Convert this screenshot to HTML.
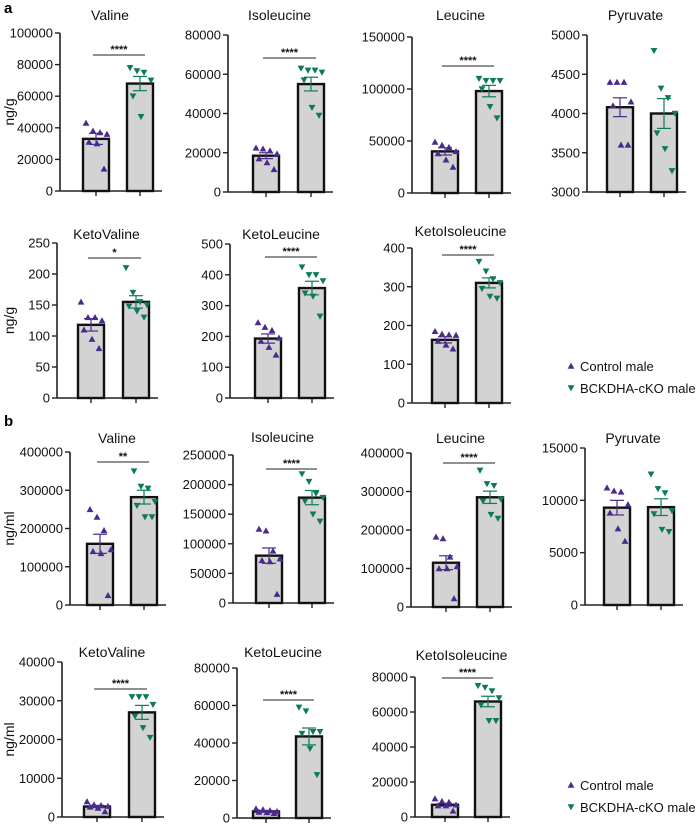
<!DOCTYPE html>
<html><head><meta charset="utf-8">
<style>
html,body{margin:0;padding:0;background:#fff;}
svg{display:block;font-family:"Liberation Sans",Arial,sans-serif;}
</style></head>
<body>
<svg id="fig" width="697" height="826" viewBox="0 0 697 826" xmlns="http://www.w3.org/2000/svg">
<text x="4" y="13" font-size="15" font-weight="bold">a</text>
<text x="4" y="426" font-size="15" font-weight="bold">b</text>
</svg>
<script>
// ---- data ----
const panelTitles = ["Valine","Isoleucine","Leucine","Pyruvate","KetoValine","KetoLeucine","KetoIsoleucine",
                     "Valine","Isoleucine","Leucine","Pyruvate","KetoValine","KetoLeucine","KetoIsoleucine"];
const yTicks = [
 [0,20000,40000,60000,80000,100000],[0,20000,40000,60000,80000],[0,50000,100000,150000],[3000,3500,4000,4500,5000],
 [0,50,100,150,200,250],[0,100,200,300,400,500],[0,100,200,300,400],
 [0,100000,200000,300000,400000],[0,50000,100000,150000,200000,250000],[0,100000,200000,300000,400000],[0,5000,10000,15000],
 [0,10000,20000,30000,40000],[0,20000,40000,60000,80000],[0,20000,40000,60000,80000]];
const controlMeans = [33000,18500,40000,4080,118,193,163,160000,80000,115000,9300,2700,3500,7000];
const koMeans = [68000,55000,98000,4000,155,357,310,282000,178000,285000,9350,27000,43500,66000];
const controlSem = [3500,1500,3500,120,10,15,8,25000,13000,18000,700,300,400,800];
const koSem = [4500,3500,5500,190,10,22,13,18000,12000,16000,800,1800,4500,3000];
const controlPoints = [
 [43000,38000,37000,36000,31000,30000,14000],[22500,22000,21000,19500,17000,15000,11500],[49000,46000,44000,40000,38000,32000,25000],
 [4400,4400,4400,4150,4100,3600,3600],[155,130,130,125,110,95,80],[245,230,220,195,185,165,140],[185,178,176,175,160,150,140],
 [250000,230000,195000,145000,140000,135000,25000],[125000,122000,88000,75000,72000,70000,15000],[182000,178000,130000,105000,100000,100000,22000],
 [11200,10900,10800,9600,8800,7300,6100],[4000,3200,3000,2800,2600,2300,1400],[5000,4500,4000,3500,3200,3000,2500],[10500,9000,8500,7000,6500,6500,3500]];
const koPoints = [
 [78000,76000,75000,70000,60000,47000],[63000,62000,62000,61000,57000,43000,39000],[110000,108000,108000,108000,100000,83000,72000],
 [4800,4320,4200,4000,3750,3550,3270],[210,170,155,150,148,140,130],[425,400,400,380,340,330,265],[365,340,320,310,295,275,270],
 [350000,310000,305000,270000,260000,230000,230000],[218000,205000,185000,178000,172000,150000,138000],[355000,320000,315000,280000,275000,240000,230000],
 [12500,11100,10700,9000,8700,7200,7000],[31000,31000,31000,29000,26000,23000,20500],[59000,57000,46000,46000,45000,37000,23000],[75000,74000,72000,68000,64000,55000,55000]];
const sigLabels = ["****","****","****","","*","****","****","**","****","****","","****","****","****"];

// ---- layout (pixels) ----
const L = [
 {ax:60,top:33,bot:191,c1:96,c2:140,ty:20,sy:55,yl:1},
 {ax:228,top:35,bot:192,c1:266,c2:311,ty:20,sy:58},
 {ax:412,top:37,bot:193,c1:445,c2:489,ty:20,sy:66},
 {ax:587,top:35,bot:192,c1:620,c2:664,ty:20,sy:0},
 {ax:57,top:243,bot:398,c1:91,c2:136,ty:239,sy:258,yl:1},
 {ax:230,top:244,bot:398,c1:268,c2:312,ty:239,sy:257},
 {ax:412,top:248,bot:403,c1:445,c2:489,ty:236,sy:255},
 {ax:70,top:452,bot:605,c1:100,c2:144,ty:443,sy:462,yl:1},
 {ax:233,top:455,bot:603,c1:269,c2:312,ty:442,sy:469},
 {ax:411,top:453,bot:607,c1:446,c2:490,ty:443,sy:463},
 {ax:585,top:448,bot:605,c1:617,c2:661,ty:443,sy:0},
 {ax:62,top:662,bot:817,c1:97,c2:142,ty:657,sy:689,yl:1},
 {ax:237,top:668,bot:818,c1:266,c2:309,ty:657,sy:700},
 {ax:415,top:677,bot:817,c1:445,c2:488,ty:660,sy:678}];
const jit = [-10,-3,4,11,-7,1,8];
const units = ["ng/g","ng/g","ng/g","ng/g","ng/g","ng/g","ng/g","ng/ml","ng/ml","ng/ml","ng/ml","ng/ml","ng/ml","ng/ml"];
const NS = "http://www.w3.org/2000/svg";
const svg = document.getElementById("fig");
const PURPLE = "#4a2a8f", GREEN = "#0d7a5c";
function mk(tag, attrs, parent){ const e=document.createElementNS(NS,tag); for(const k in attrs) e.setAttribute(k,attrs[k]); (parent||svg).appendChild(e); return e; }

function tri(g, x, y, up, col){
  const s=3.4;
  const p = up ? `${x},${y-s} ${x-s},${y+s*0.8} ${x+s},${y+s*0.8}` : `${x},${y+s} ${x-s},${y-s*0.8} ${x+s},${y-s*0.8}`;
  const t = mk("polygon",{points:p,fill:col},g);
  
  
}

for(let i=0;i<panelTitles.length;i++){
  const l=L[i], ticks=yTicks[i];
  const ymin=ticks[0], ymax=ticks[ticks.length-1];
  const y = v => l.bot - (v-ymin)/(ymax-ymin)*(l.bot-l.top);
  const g = mk("g",{});
  
  
  const t = mk("text",{x:(l.ax+l.c2+16)/2+2,y:l.ty,"font-size":14,"text-anchor":"middle",fill:"#111"},g);
  t.textContent = panelTitles[i];
  
  
  const xend = l.c2+22;
  const ya = mk("line",{x1:l.ax,y1:l.top,x2:l.ax,y2:l.bot,stroke:"#222","stroke-width":1.6},g);
  
  
  const xa = mk("line",{x1:l.ax,y1:l.bot,x2:xend,y2:l.bot,stroke:"#222","stroke-width":1.6},g);
  
  
  for(const tv of ticks){
    const yy=y(tv);
    mk("line",{x1:l.ax-5,y1:yy,x2:l.ax,y2:yy,stroke:"#222","stroke-width":1.4},g);
    const tl = mk("text",{x:l.ax-7,y:yy+4.5,"font-size":13,"text-anchor":"end",fill:"#111"},g);
    tl.textContent = tv;
    
    
  }
  for(const c of [l.c1,l.c2]) mk("line",{x1:c,y1:l.bot,x2:c,y2:l.bot+5,stroke:"#222","stroke-width":1.4},g);
  if(l.yl){
    const cy=(l.top+l.bot)/2;
    const yt = mk("text",{x:14,y:cy,"font-size":14,"text-anchor":"middle",transform:`rotate(-90 14 ${cy})`,fill:"#111"},g);
    yt.textContent = units[i];
    
    
  }
  const groups=[[l.c1,controlMeans[i],controlSem[i],controlPoints[i],PURPLE,true],[l.c2,koMeans[i],koSem[i],koPoints[i],GREEN,false]];
  for(const [c,m,s,pts,col,up] of groups){
    const b = mk("rect",{x:c-13,y:y(m),width:26,height:l.bot-y(m),fill:"#d3d3d3",stroke:"#111","stroke-width":2.4},g);
    
    
    pts.forEach((v,k)=>tri(g,c+jit[k%7],y(v),up,col));
    mk("line",{x1:c,y1:y(m+s),x2:c,y2:y(m-s),stroke:col,"stroke-width":1.2},g);
    mk("line",{x1:c-7,y1:y(m+s),x2:c+7,y2:y(m+s),stroke:col,"stroke-width":1.2},g);
    mk("line",{x1:c-7,y1:y(m-s),x2:c+7,y2:y(m-s),stroke:col,"stroke-width":1.2},g);
  }
  if(sigLabels[i]){
    const sl = mk("line",{x1:l.c1-3,y1:l.sy,x2:l.c2+5,y2:l.sy,stroke:"#222","stroke-width":1},g);
    
    
    const st = mk("text",{x:(l.c1+l.c2)/2+1,y:l.sy-2,"font-size":11,"font-weight":"bold","text-anchor":"middle",fill:"#111"},g);
    st.textContent = sigLabels[i];
    
    
  }
}
for(const ly of [370,789]){
  const lg = mk("g",{});
  
  
  tri(lg,571,ly-4,true,PURPLE);
  tri(lg,571,ly+18,false,GREEN);
  const a = mk("text",{x:580,y:ly+1,"font-size":13,fill:"#111"},lg);
  a.textContent="Control male";
  
  
  const b = mk("text",{x:580,y:ly+23,"font-size":13,fill:"#111"},lg);
  b.textContent="BCKDHA-cKO male";
  
  
}
</script>
</body></html>
